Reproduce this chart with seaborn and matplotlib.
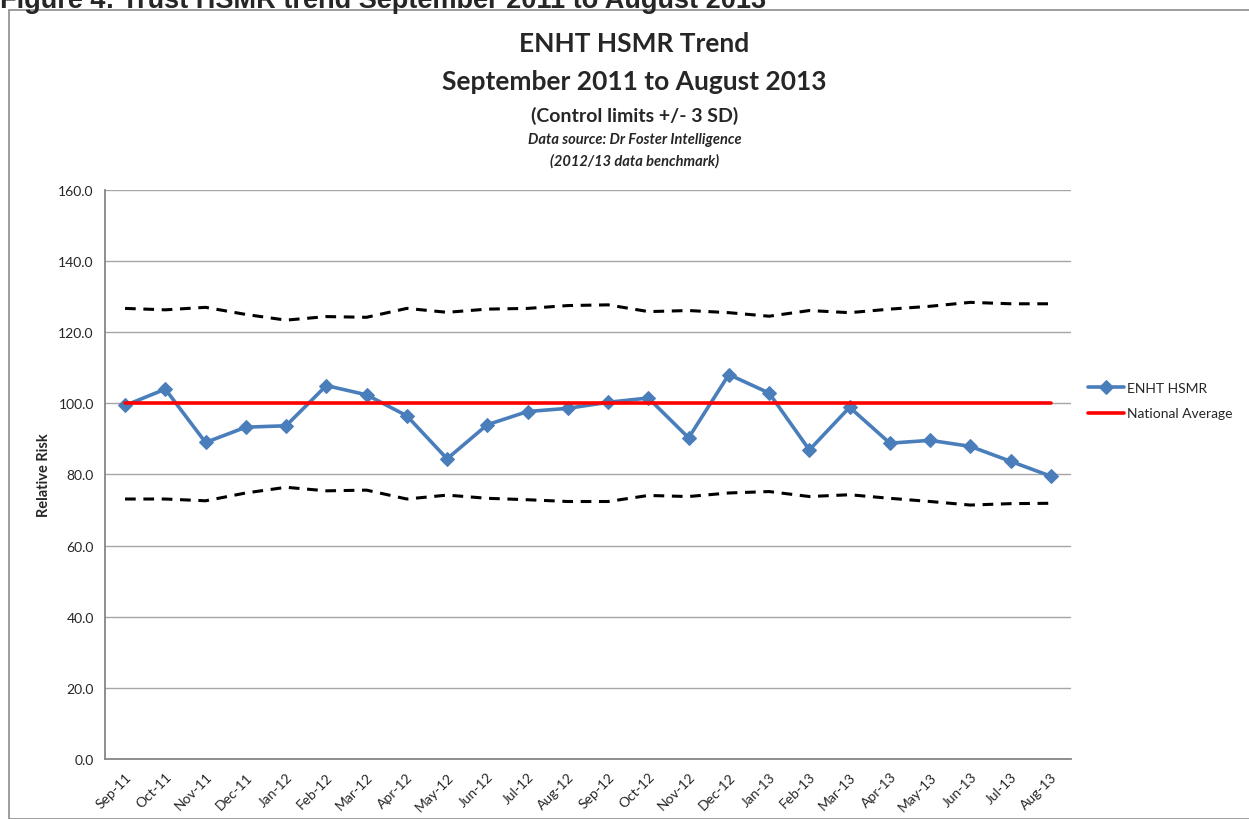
import pandas as pd
import numpy as np
import seaborn as sns
import matplotlib.pyplot as plt
from matplotlib.patches import Rectangle

# dados
meses = ['Sep-11', 'Oct-11', 'Nov-11', 'Dec-11', 'Jan-12', 'Feb-12', 'Mar-12', 'Apr-12',
         'May-12', 'Jun-12', 'Jul-12', 'Aug-12', 'Sep-12', 'Oct-12', 'Nov-12', 'Dec-12',
         'Jan-13', 'Feb-13', 'Mar-13', 'Apr-13', 'May-13', 'Jun-13', 'Jul-13', 'Aug-13']
hsmr = [99.4, 104.0, 89.0, 93.3, 93.7, 105.0, 102.4, 96.5, 84.4, 94.0, 97.7, 98.6,
        100.3, 101.5, 90.3, 108.1, 102.9, 86.9, 98.9, 88.8, 89.6, 87.9, 83.7, 79.5]
media_nacional = [100.0] * 24
limite_sup = [126.7, 126.3, 127.0, 125.0, 123.4, 124.4, 124.2, 126.7, 125.6, 126.5, 126.7, 127.5,
              127.7, 125.8, 126.1, 125.5, 124.5, 126.1, 125.5, 126.5, 127.3, 128.4, 128.0, 128.0]
limite_inf = [73.1, 73.1, 72.6, 74.8, 76.4, 75.4, 75.6, 73.1, 74.2, 73.3, 72.9, 72.4,
              72.4, 74.1, 73.8, 74.8, 75.2, 73.8, 74.3, 73.3, 72.4, 71.4, 71.8, 71.9]
y_ticks = [0, 20, 40, 60, 80, 100, 120, 140, 160]

df = pd.DataFrame({'Mes': meses, 'HSMR': hsmr, 'Media': media_nacional,
                   'Sup': limite_sup, 'Inf': limite_inf})
df['pos'] = np.arange(len(df))

sns.set_style('white')
plt.rcParams['font.family'] = ['Lato', 'DejaVu Sans']

fig = plt.figure(figsize=(12.49, 8.2), dpi=100)
ax = fig.add_axes([0.084, 0.0732, 0.7735, 0.6939])

# moldura do grafico e legenda da figura (cortada no topo, como no original)
fig.patches.append(Rectangle((9 / 1249, 0), 1.0, 1 - 11 / 820, transform=fig.transFigure,
                             fill=False, edgecolor='#8c8c8c', linewidth=1.2))
fig.text(0.0, 1 - 1 / 820, 'Figure 4: Trust HSMR trend September 2011 to August 2013',
         fontsize=19.5, fontweight='bold', family='Liberation Sans', va='center', ha='left')

sns.lineplot(data=df, x='pos', y='Sup', ax=ax, color='black', linewidth=2.2,
             linestyle=(0, (3.5, 2.5)), legend=False)
sns.lineplot(data=df, x='pos', y='Inf', ax=ax, color='black', linewidth=2.2,
             linestyle=(0, (3.5, 2.5)), legend=False)
sns.lineplot(data=df, x='pos', y='HSMR', ax=ax, color='#4a7ebb', linewidth=2.6,
             marker='D', markersize=7, markeredgecolor='#4a7ebb', label='ENHT HSMR')
sns.lineplot(data=df, x='pos', y='Media', ax=ax, color='#ff0000', linewidth=2.6,
             label='National Average')

ax.set_xlim(-0.5, len(meses) - 0.5)
ax.set_ylim(0, 160)
ax.set_yticks(y_ticks)
ax.set_yticklabels([f'{v:.1f}' for v in y_ticks], fontsize=10)
ax.set_xticks(df['pos'])
ax.set_xticklabels(meses, rotation=45, ha='right', rotation_mode='anchor', fontsize=10)
ax.tick_params(axis='both', length=0, pad=8)
ax.set_xlabel('')
ax.set_ylabel('Relative Risk', fontsize=10.5, fontweight='bold', labelpad=5)
ax.yaxis.grid(True, color='#a6a6a6', linewidth=1)
ax.set_axisbelow(True)
for lado in ['top', 'right']:
    ax.spines[lado].set_visible(False)
for lado in ['left', 'bottom']:
    ax.spines[lado].set_color('#868686')
    ax.spines[lado].set_linewidth(1.3)

ax.legend(loc='center left', bbox_to_anchor=(1.005, 0.63), frameon=False, fontsize=10,
          handlelength=2.6, handletextpad=0.15, labelspacing=1.0)

# titulos
fig.text(0.508, 1 - 44 / 820, 'ENHT HSMR Trend', fontsize=19, fontweight='bold',
         ha='center', va='center')
fig.text(0.508, 1 - 82 / 820, 'September 2011 to August 2013', fontsize=19, fontweight='bold',
         ha='center', va='center')
fig.text(0.508, 1 - 116 / 820, '(Control limits +/- 3 SD)', fontsize=14, fontweight='bold',
         ha='center', va='center')
fig.text(0.508, 1 - 140 / 820, 'Data source: Dr Foster Intelligence', fontsize=10.5,
         fontweight='bold', style='italic', ha='center', va='center')
fig.text(0.508, 1 - 161 / 820, '(2012/13 data benchmark)', fontsize=10.5,
         fontweight='bold', style='italic', ha='center', va='center')

plt.savefig('out.png', dpi=100)
